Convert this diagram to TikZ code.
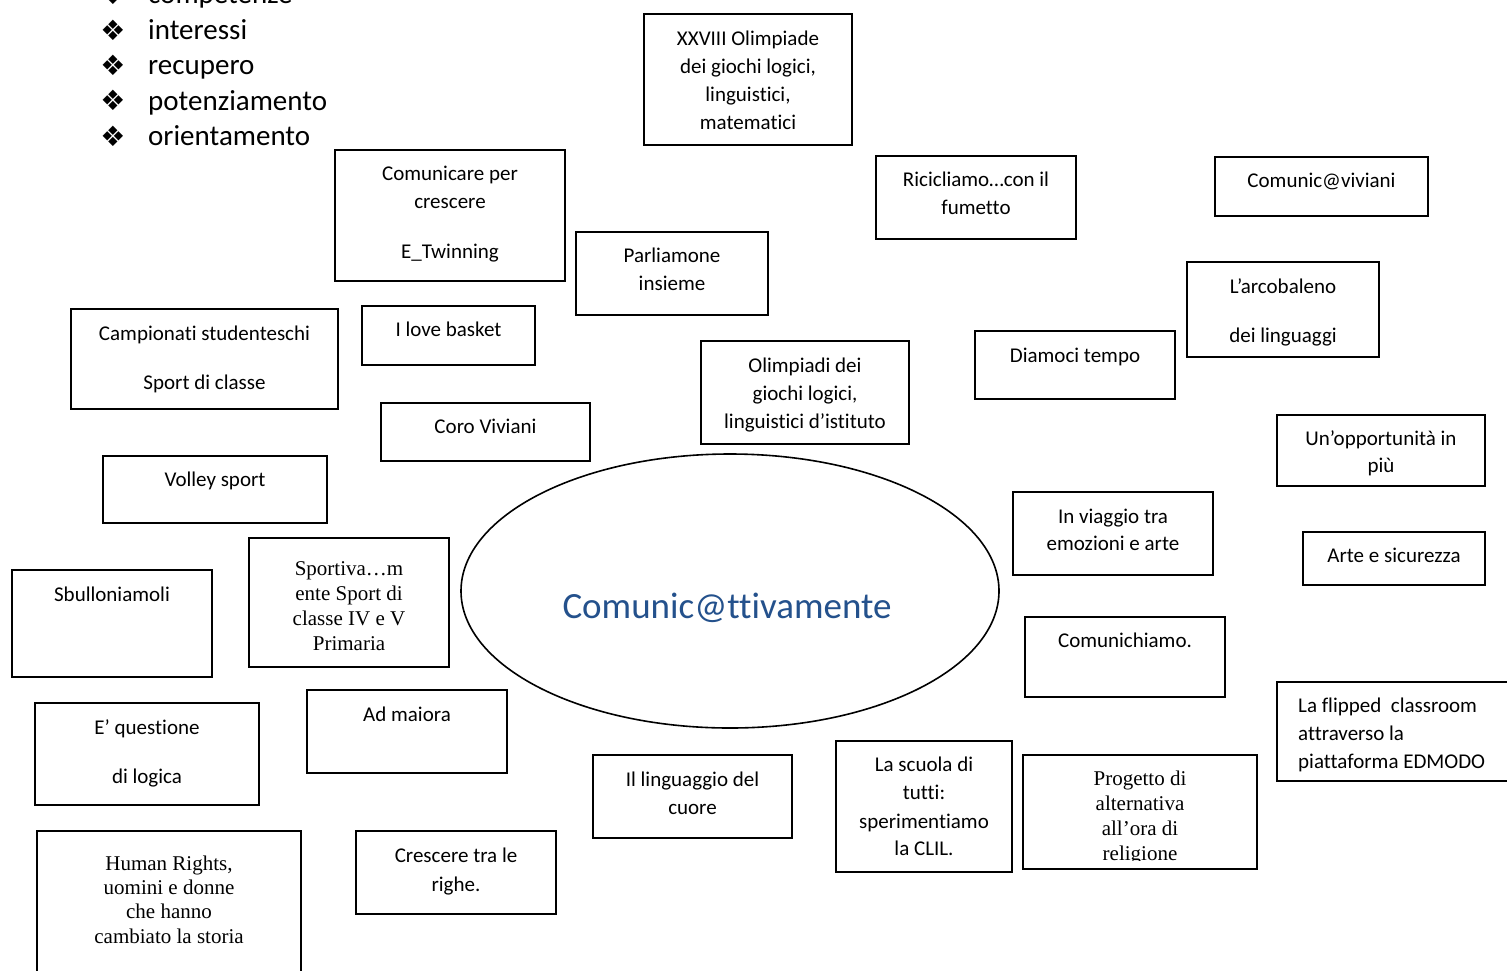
\documentclass[tikz,border=0pt]{standalone}
\usepackage{fontspec}
\setmainfont{Carlito}[Ligatures=NoCommon]
\newfontfamily\seriffont{Liberation Serif}
\newfontfamily\symfont{DejaVu Sans}
\usetikzlibrary{shapes.geometric}
\definecolor{titleblue}{RGB}{36,81,140}
\tikzset{
  boxs/.style={draw=black, line width=1.6pt, inner sep=0pt, outer sep=0pt},
  lbl/.style={inner sep=0pt, anchor=mid, yshift=-5pt, font=\fontsize{21}{25}\selectfont},
  slbl/.style={inner sep=0pt, anchor=mid, yshift=-5pt, font=\seriffont\fontsize{21}{25}\selectfont},
  blt/.style={inner sep=0pt, anchor=center, font=\symfont\fontsize{28}{28}\selectfont},
  btxt/.style={inner sep=0pt, anchor=mid west, yshift=-6pt, font=\fontsize{29}{34}\selectfont},
}
\newcommand{\bx}[5]{\node[boxs, minimum width={(#4-#2)*1pt}, minimum height={(#5-#3)*1pt}] (#1) at ({(#2+#4)/2},{(#3+#5)/2}) {};}
\begin{document}
\begin{tikzpicture}[x=1pt,y=-1pt]
\useasboundingbox (0,0) rectangle (1507,970);
\clip (0,0) rectangle (1507,970);
\fill[white] (0,0) rectangle (1507,970);

% bullet list
\node[blt] (k0) at (113,-6) {❖};
\node[btxt] (c0) at (148,-5) {competenze};
\node[blt] (k1) at (113,30) {❖};
\node[btxt] (c1) at (148,31) {interessi};
\node[blt] (k2) at (113,65) {❖};
\node[btxt] (c2) at (148,66) {recupero};
\node[blt] (k3) at (113,100) {❖};
\node[btxt] (c3) at (148,102) {potenziamento};
\node[blt] (k4) at (113,136) {❖};
\node[btxt] (c4) at (148,137) {orientamento};

% boxes
\bx{b1}{644}{14}{852}{145}
\bx{b2}{335}{150}{565}{281}
\bx{b3}{876}{156}{1076}{239}
\bx{b4}{1215}{157}{1428}{216}
\bx{b5}{576}{232}{768}{315}
\bx{b6}{1187}{262}{1379}{357}
\bx{b7}{71}{309}{338}{409}
\bx{b8}{362}{306}{535}{365}
\bx{b9}{701}{341}{909}{444}
\bx{b10}{975}{331}{1175}{399}
\bx{b11}{381}{403}{590}{461}
\bx{b12}{1277}{415}{1485}{486}
\bx{b13}{103}{456}{327}{523}
\bx{b15}{1013}{492}{1213}{575}
\bx{b16}{1303}{532}{1485}{585}
\bx{b17}{12}{570}{212}{677}
\bx{b18}{249}{538}{449}{667}
\bx{b19}{1025}{617}{1225}{697}
\bx{b20}{307}{690}{507}{773}
\bx{b21}{1277}{682}{1530}{781}
\bx{b22}{35}{703}{259}{805}
\bx{b23}{593}{755}{792}{838}
\bx{b24}{836}{741}{1012}{872}
\bx{b25}{1023}{755}{1257}{869}
\bx{b26}{37}{831}{301}{1000}
\bx{b27}{356}{831}{556}{914}

% central ellipse
\node[draw=black, ellipse, line width=1.6pt, inner sep=0pt, minimum width=538pt, minimum height=274pt] (main) at (730,591) {};
\node[inner sep=0pt, anchor=mid, yshift=-9pt, text=titleblue, font=\fontsize{37}{44}\selectfont] (title) at (727,607) {Comunic@ttivamente};

% texts
\node[lbl] (t1a) at (b1 |- 0,38) {XXVIII Olimpiade};
\node[lbl] (t1b) at (b1 |- 0,66) {dei giochi logici,};
\node[lbl] (t1c) at (b1 |- 0,94) {linguistici,};
\node[lbl] (t1d) at (b1 |- 0,122) {matematici};

\node[lbl] (t2a) at (b2 |- 0,173) {Comunicare per};
\node[lbl] (t2b) at (b2 |- 0,201) {crescere};
\node[lbl] (t2c) at (b2 |- 0,251) {E\_Twinning};

\node[lbl] (t3a) at (b3 |- 0,179) {Ricicliamo…con il};
\node[lbl] (t3b) at (b3 |- 0,207) {fumetto};

\node[lbl] (t4a) at (b4 |- 0,180) {Comunic@viviani};

\node[lbl] (t5a) at (b5 |- 0,255) {Parliamone};
\node[lbl] (t5b) at (b5 |- 0,283) {insieme};

\node[lbl] (t6a) at (b6 |- 0,286) {L’arcobaleno};
\node[lbl] (t6b) at (b6 |- 0,335) {dei linguaggi};

\node[lbl] (t7a) at (b7 |- 0,333) {Campionati studenteschi};
\node[lbl] (t7b) at (b7 |- 0,382) {Sport di classe};

\node[lbl] (t8a) at (b8 |- 0,329) {I love basket};

\node[lbl] (t9a) at (b9 |- 0,365) {Olimpiadi dei};
\node[lbl] (t9b) at (b9 |- 0,393) {giochi logici,};
\node[lbl] (t9c) at (b9 |- 0,421) {linguistici d’istituto};

\node[lbl] (t10a) at (b10 |- 0,355) {Diamoci tempo};

\node[lbl] (t11a) at (b11 |- 0,426) {Coro Viviani};

\node[lbl] (t12a) at (b12 |- 0,438) {Un’opportunità in};
\node[lbl] (t12b) at (b12 |- 0,465) {più};

\node[lbl] (t13a) at (b13 |- 0,479) {Volley sport};

\node[lbl] (t15a) at (b15 |- 0,516) {In viaggio tra};
\node[lbl] (t15b) at (b15 |- 0,543) {emozioni e arte};

\node[lbl] (t16a) at (b16 |- 0,555) {Arte e sicurezza};

\node[lbl] (t17a) at (b17 |- 0,594) {Sbulloniamoli};

\node[slbl] (t18a) at (b18 |- 0,568) {Sportiva…m};
\node[slbl] (t18b) at (b18 |- 0,593) {ente Sport di};
\node[slbl] (t18c) at (b18 |- 0,618) {classe IV e V};
\node[slbl] (t18d) at (b18 |- 0,643) {Primaria};

\node[lbl] (t19a) at (b19 |- 0,640) {Comunichiamo.};

\node[lbl] (t20a) at (b20 |- 0,714) {Ad maiora};

\node[lbl, anchor=mid west] (t21a) at (1298,705) {La flipped~ classroom};
\node[lbl, anchor=mid west] (t21b) at (1298,733) {attraverso la};
\node[lbl, anchor=mid west] (t21c) at (1298,761) {piattaforma EDMODO};

\node[lbl] (t22a) at (b22 |- 0,727) {E’ questione};
\node[lbl] (t22b) at (b22 |- 0,776) {di logica};

\node[lbl] (t23a) at (b23 |- 0,779) {Il linguaggio del};
\node[lbl] (t23b) at (b23 |- 0,807) {cuore};

\node[lbl] (t24a) at (b24 |- 0,764) {La scuola di};
\node[lbl] (t24b) at (b24 |- 0,792) {tutti:};
\node[lbl] (t24c) at (b24 |- 0,821) {sperimentiamo};
\node[lbl] (t24d) at (b24 |- 0,848) {la CLIL.};

\begin{scope}
\clip (1024,756) rectangle (1256,860);
\node[slbl] (t25a) at (b25 |- 0,778) {Progetto di};
\node[slbl] (t25b) at (b25 |- 0,803) {alternativa};
\node[slbl] (t25c) at (b25 |- 0,828) {all’ora di};
\node[slbl] (t25d) at (b25 |- 0,853) {religione};
\end{scope}

\node[slbl] (t26a) at (b26 |- 0,863) {Human Rights,};
\node[slbl] (t26b) at (b26 |- 0,887) {uomini e donne};
\node[slbl] (t26c) at (b26 |- 0,911) {che hanno};
\node[slbl] (t26d) at (b26 |- 0,936) {cambiato la storia};

\node[lbl] (t27a) at (b27 |- 0,855) {Crescere tra le};
\node[lbl] (t27b) at (b27 |- 0,884) {righe.};
\end{tikzpicture}
\end{document}
